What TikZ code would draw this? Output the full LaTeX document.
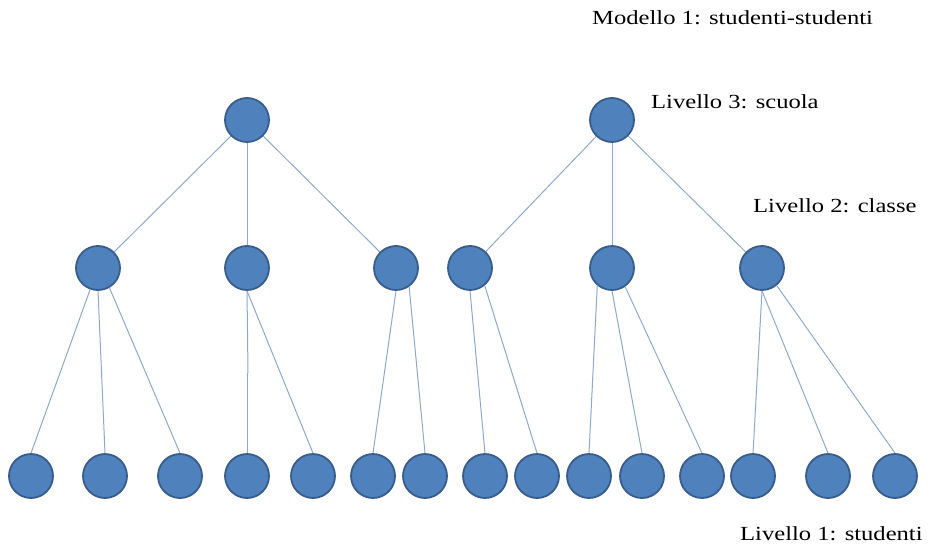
\documentclass[tikz,border=0pt]{standalone}
\usepackage{fontspec}
\setmainfont{Liberation Serif}[FakeStretch=1.23]
\definecolor{nodefill}{HTML}{4F81BD}
\definecolor{nodeline}{HTML}{385D8A}
\definecolor{edgecol}{HTML}{8FA9CA}
\begin{document}
\begin{tikzpicture}[x=1pt,y=-1pt,
  dot/.style={circle,minimum size=44pt,inner sep=0pt,fill=nodefill,draw=nodeline,line width=1.8pt},
  link/.style={draw=edgecol,line width=1pt},
  lab/.style={anchor=base west,inner sep=0pt,font=\fontsize{20}{22}\selectfont}]
\useasboundingbox (0,0) rectangle (931,551);
% level 3
\node[dot] (s1) at (247,120) {};
\node[dot] (s2) at (612,120) {};
% level 2
\node[dot] (c1) at (98,268) {};
\node[dot] (c2) at (247,268) {};
\node[dot] (c3) at (396,268) {};
\node[dot] (c4) at (470,268) {};
\node[dot] (c5) at (612,268) {};
\node[dot] (c6) at (762,268) {};
% level 1
\foreach \i/\x in {1/31,2/105,3/180,4/247,5/313,6/373,7/425,8/485,9/537,10/589,11/642,12/702,13/753,14/828,15/895}
  \node[dot] (b\i) at (\x,476) {};
% edges level 3 -> 2
\draw[link] (s1) -- (c1);
\draw[link] (s1) -- (c2);
\draw[link] (s1) -- (c3);
\draw[link] (s2) -- (c4);
\draw[link] (s2) -- (c5);
\draw[link] (s2) -- (c6);
% edges level 2 -> 1
\draw[link] (c1.-110) -- (b1.north);
\draw[link] (c1.south) -- (b2.north);
\draw[link] (c1.-60) -- (b3.north);
\coordinate (j1) at (248,373);
\coordinate (j2) at (247,373);
\draw[link] (c2.south) -- (j1);
\draw[link] (j2) -- (b4.north);
\draw[link] (c2.south) -- (b5.north);
\draw[link] (c3.south) -- (b6.north);
\draw[link] (c3.-55) -- (b7.north);
\draw[link] (c4.south) -- (b8.north);
\draw[link] (c4.-50) -- (b9.north);
\draw[link] (c5.-130) -- (b10.north);
\draw[link] (c5.south) -- (b11.north);
\draw[link] (c5.-55) -- (b12.north);
\draw[link] (c6.south) -- (b13.north);
\draw[link] (c6.south) -- (b14.north);
\draw[link] (c6.-50) -- (b15.north);
% labels
\node[lab] (t0) at (592,25) {Modello 1: studenti-studenti};
\node[lab] (t3) at (651,108) {Livello 3: scuola};
\node[lab] (t2) at (753,212) {Livello 2: classe};
\node[lab] (t1) at (740,540) {Livello 1: studenti};
\end{tikzpicture}
\end{document}
